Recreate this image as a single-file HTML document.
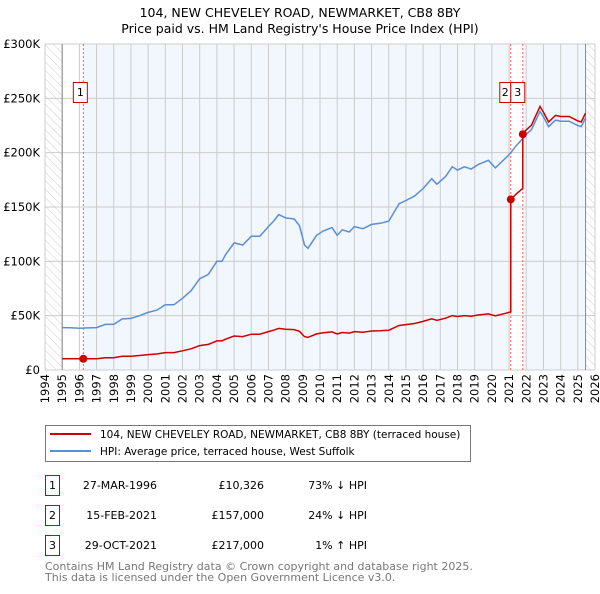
<!DOCTYPE html>
<html><head><meta charset="utf-8"><style>
body{margin:0;background:#fff;width:600px;height:590px;overflow:hidden;font-family:"DejaVu Sans","Liberation Sans",sans-serif}
svg text{font-family:"DejaVu Sans","Liberation Sans",sans-serif}
</style></head><body>
<svg id="c" width="600" height="590" xmlns="http://www.w3.org/2000/svg">
<defs><pattern id="hatch" width="6" height="6" patternUnits="userSpaceOnUse" patternTransform="rotate(-45)"><line x1="0" y1="0" x2="0" y2="6" stroke="#ccc" stroke-width="1"/></pattern></defs>
<text x="300" y="17" text-anchor="middle" font-size="12.5">104, NEW CHEVELEY ROAD, NEWMARKET, CB8 8BY</text>
<text x="300" y="33" text-anchor="middle" font-size="12.5">Price paid vs. HM Land Registry's House Price Index (HPI)</text>
<g id="plot"></g>
<g>
<rect x="45.5" y="425.5" width="425" height="36" fill="#fff" stroke="#777"/>
<line x1="50" y1="434" x2="91" y2="434" stroke="#cc0000" stroke-width="2"/>
<text x="100" y="438" font-size="10.5">104, NEW CHEVELEY ROAD, NEWMARKET, CB8 8BY (terraced house)</text>
<line x1="50" y1="451" x2="91" y2="451" stroke="#5b8fd4" stroke-width="2"/>
<text x="100" y="455" font-size="10.5">HPI: Average price, terraced house, West Suffolk</text>
</g>
<g id="table" font-size="11"></g>
<text x="45" y="570" font-size="11" fill="#777">Contains HM Land Registry data © Crown copyright and database right 2025.</text>
<text x="45" y="581" font-size="11" fill="#777">This data is licensed under the Open Government Licence v3.0.</text>
</svg>
<script>
const hpiT=[1995,1995.5,1996,1996.5,1997,1997.5,1998,1998.5,1999,1999.5,2000,2000.5,2001,2001.5,2002,2002.5,2003,2003.5,2004,2004.3,2004.5,2005,2005.5,2006,2006.5,2007,2007.3,2007.6,2008,2008.5,2008.8,2009.1,2009.3,2009.8,2010.2,2010.7,2011,2011.3,2011.7,2012,2012.5,2013,2013.5,2014,2014.6,2015,2015.5,2016,2016.5,2016.8,2017.3,2017.7,2018,2018.4,2018.8,2019.2,2019.8,2020.2,2020.8,2021.1,2021.4,2021.8,2022,2022.3,2022.8,2023,2023.3,2023.7,2024,2024.5,2025,2025.2,2025.45];
const hpiV=[39,38.8,38.5,38.7,39,42,42,47,47.5,50,53,55,60,60,66,73,84,88,100,100,106,117,115,123,123,132,137,143,140,139,133,115,112,124,128,131,124,129,127,132,130,134,135,137,153,156,160,167,176,171,178,187,184,187,185,189,193,186,195,200,206,213,217,221,238,233,224,230,229,229,225,224,232];
const saleT=[1996.23,2021.1,2021.8];
const saleV=[10.326,157,217];
const saleLabels=["1","2","3"];
const saleDates=["27-MAR-1996","15-FEB-2021","29-OCT-2021"];
const salePrices=["£10,326","£157,000","£217,000"];
const saleDiff=["73% ↓ HPI","24% ↓ HPI","1% ↑ HPI"];
const yTicks=[0,50,100,150,200,250,300];
const yLabels=["£0","£50K","£100K","£150K","£200K","£250K","£300K"];
const xYears=[1994,1995,1996,1997,1998,1999,2000,2001,2002,2003,2004,2005,2006,2007,2008,2009,2010,2011,2012,2013,2014,2015,2016,2017,2018,2019,2020,2021,2022,2023,2024,2025,2026];

const X0=45,X1=595,Y0=370,Y1=44;
const sx=t=>X0+(t-1994)/(2026-1994)*(X1-X0);
const sy=v=>Y0-v/300*(Y0-Y1);
const NS="http://www.w3.org/2000/svg";
const plot=document.getElementById('plot');
function mk(tag,attrs,parent){const e=document.createElementNS(NS,tag);for(const k in attrs)e.setAttribute(k,attrs[k]);(parent||plot).appendChild(e);return e;}
function hpiAt(t){if(t<=hpiT[0])return hpiV[0];for(let i=1;i<hpiT.length;i++){if(t<=hpiT[i]){const f=(t-hpiT[i-1])/(hpiT[i]-hpiT[i-1]);return hpiV[i-1]+f*(hpiV[i]-hpiV[i-1]);}}return hpiV[hpiV.length-1];}
const tEnd=hpiT[hpiT.length-1];
let e;
e=mk('rect',{x:X0,y:Y1,width:X1-X0,height:Y0-Y1,fill:'#fff'});

e=mk('rect',{x:sx(saleT[0]),y:Y1,width:sx(saleT[1])-sx(saleT[0]),height:Y0-Y1,fill:'#f2f6fd'});

e=mk('rect',{x:sx(saleT[2]),y:Y1,width:sx(tEnd)-sx(saleT[2]),height:Y0-Y1,fill:'#f2f6fd'});

e=mk('rect',{x:X0,y:Y1,width:sx(1995)-X0,height:Y0-Y1,fill:'url(#hatch)'});

e=mk('rect',{x:sx(tEnd),y:Y1,width:X1-sx(tEnd),height:Y0-Y1,fill:'url(#hatch)'});

xYears.forEach(y=>{const g=mk('line',{x1:sx(y),x2:sx(y),y1:Y1,y2:Y0,stroke:'#ccc'});

const tx=sx(y)+4;const l=mk('text',{x:tx,y:374,transform:`rotate(-90 ${tx} 374)`,'text-anchor':'end','font-size':'11.5'});l.textContent=y;
});
yTicks.forEach((v,i)=>{const g=mk('line',{x1:X0,x2:X1,y1:sy(v),y2:sy(v),stroke:'#ccc'});

const l=mk('text',{x:40,y:sy(v)+4,'text-anchor':'end','font-size':'11.5'});l.textContent=yLabels[i];
});
e=mk('line',{x1:sx(1995),x2:sx(1995),y1:Y1,y2:Y0,stroke:'#888'});

e=mk('line',{x1:sx(tEnd),x2:sx(tEnd),y1:Y1,y2:Y0,stroke:'#888'});

saleT.forEach((t,i)=>{const g=mk('line',{x1:sx(t),x2:sx(t),y1:Y1,y2:Y0,stroke:'#e66','stroke-dasharray':'2,2'});
});
let d=hpiT.map((t,i)=>(i?'L':'M')+sx(t).toFixed(1)+','+sy(hpiV[i]).toFixed(1)).join('');
e=mk('path',{d:d,fill:'none',stroke:'#5b8fd4','stroke-width':1.5});

let pts=[];
function seg(t0,t1,base,baseT){const ts=[t0].concat(hpiT.filter(t=>t>t0&&t<t1),[t1]);ts.forEach(t=>pts.push([t,base*hpiAt(t)/hpiAt(baseT)]));}
seg(1995,saleT[1],saleV[0],saleT[0]);
seg(saleT[1],saleT[2],saleV[1],saleT[1]);
seg(saleT[2],tEnd,saleV[2],saleT[2]);
d=pts.map((p,i)=>(i?'L':'M')+sx(p[0]).toFixed(1)+','+sy(p[1]).toFixed(1)).join('');
e=mk('path',{d:d,fill:'none',stroke:'#cc0000','stroke-width':1.5});

saleT.forEach((t,i)=>{const c=mk('circle',{cx:sx(t),cy:sy(saleV[i]),r:4,fill:'#cc0000'});
});
const bx=[sx(saleT[0])-10,sx(saleT[1])-11,sx(saleT[1])];
const bw=[14,11,14];
saleLabels.forEach((s,i)=>{const r=mk('rect',{x:bx[i],y:82.5,width:bw[i],height:20,fill:'#fff',stroke:'#cc0000'});

const l=mk('text',{x:bx[i]+bw[i]/2,y:96,'text-anchor':'middle','font-size':'11'});l.textContent=s;
});
const tb=document.getElementById('table');
saleLabels.forEach((s,i)=>{const y=475+i*30;
const r=mk('rect',{x:45.5,y:y+0.5,width:14,height:20,fill:'none',stroke:'#cc0000'},tb);

const a=mk('text',{x:52.5,y:y+14,'text-anchor':'middle'},tb);a.textContent=s;

const b=mk('text',{x:157,y:y+14,'text-anchor':'end'},tb);b.textContent=saleDates[i];

const c=mk('text',{x:264,y:y+14,'text-anchor':'end'},tb);c.textContent=salePrices[i];

const f=mk('text',{x:367,y:y+14,'text-anchor':'end'},tb);f.textContent=saleDiff[i];
});
</script>
</body></html>
